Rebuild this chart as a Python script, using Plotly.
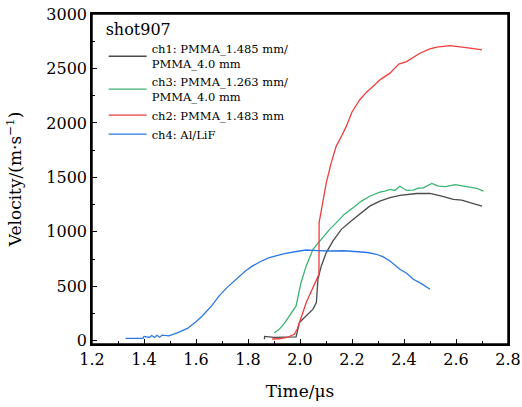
import plotly.graph_objects as go

# ch1: PMMA_1.485 mm / PMMA_4.0 mm
ch1_t = [1.863, 1.864, 1.90, 1.95, 1.985, 1.998, 2.024, 2.050, 2.063, 2.069, 2.082, 2.101,
         2.127, 2.159, 2.204, 2.268, 2.307, 2.346, 2.384, 2.449, 2.500, 2.545, 2.590, 2.622,
         2.654, 2.700]
ch1_v = [15, 40, 31, 31, 35, 168, 229, 290, 351, 565, 687, 809,
         916, 1023, 1114, 1236, 1282, 1313, 1334, 1352, 1352, 1328, 1297, 1291,
         1267, 1236]

# ch3: PMMA_1.263 mm / PMMA_4.0 mm
ch3_t = [1.901, 1.921, 1.94, 1.959, 1.985, 2.004, 2.024, 2.050, 2.082, 2.114, 2.140, 2.17,
         2.204, 2.235, 2.268, 2.307, 2.33, 2.346, 2.365, 2.384, 2.41, 2.436, 2.455, 2.474,
         2.507, 2.532, 2.56, 2.597, 2.63, 2.654, 2.68, 2.706]
ch3_v = [70, 107, 160, 229, 320, 535, 687, 840, 931, 1023, 1084, 1160,
         1221, 1280, 1327, 1364, 1375, 1389, 1380, 1419, 1380, 1382, 1400, 1404,
         1444, 1419, 1415, 1434, 1420, 1413, 1400, 1373]

# ch2: PMMA_1.483 mm
ch2_t = [1.893, 1.92, 1.95, 1.979, 1.99, 1.998, 2.01, 2.024, 2.037, 2.050, 2.060, 2.069,
         2.073, 2.0735, 2.08, 2.088, 2.101, 2.120, 2.139, 2.16, 2.178, 2.20, 2.230, 2.255,
         2.281, 2.31, 2.346, 2.38, 2.410, 2.461, 2.50, 2.526, 2.577, 2.616, 2.654, 2.700]
ch2_v = [16, 18, 30, 61, 110, 168, 260, 351, 420, 489, 545, 595,
         610, 1084, 1180, 1267, 1450, 1633, 1785, 1880, 1968, 2100, 2213, 2280,
         2334, 2400, 2457, 2540, 2563, 2640, 2680, 2695, 2710, 2701, 2686, 2670]

# ch4: Al/LiF
ch4_t = [1.329, 1.396, 1.40, 1.42, 1.43, 1.44, 1.45, 1.46, 1.47, 1.496, 1.53, 1.567,
         1.60, 1.625, 1.66, 1.689, 1.72, 1.754, 1.79, 1.818, 1.85, 1.882, 1.94, 1.998,
         2.024, 2.07, 2.114, 2.17, 2.217, 2.26, 2.294, 2.32, 2.346, 2.384, 2.41, 2.436,
         2.47, 2.50]
ch4_v = [22, 22, 40, 30, 48, 30, 50, 32, 52, 45, 75, 113,
         175, 229, 320, 412, 490, 565, 640, 687, 730, 763, 800, 824,
         833, 828, 824, 826, 821, 810, 794, 770, 732, 656, 620, 565,
         520, 473]

series = [
    ("ch1: PMMA_1.485 mm/<br>PMMA_4.0 mm", ch1_t, ch1_v, "#4a4a4a"),
    ("ch3: PMMA_1.263 mm/<br>PMMA_4.0 mm", ch3_t, ch3_v, "#3cb371"),
    ("ch2: PMMA_1.483 mm", ch2_t, ch2_v, "#f23c3c"),
    ("ch4: Al/LiF", ch4_t, ch4_v, "#2b78e4"),
]

font = "DejaVu Serif"

fig = go.Figure()
for name, t, v, c in series:
    fig.add_scatter(x=t, y=v, mode="lines", name=name, line=dict(color=c, width=1.3))

axis_style = dict(
    showline=True, linecolor="black", linewidth=1.5, mirror=True,
    ticks="inside", ticklen=5, tickcolor="black", tickwidth=1,
    showgrid=False, zeroline=False, automargin=False,
    tickfont=dict(family=font, size=16, color="black"),
)

fig.update_xaxes(range=[1.2, 2.8], dtick=0.2, tickformat=".1f",
                 minor=dict(ticks="inside", ticklen=3, dtick=0.1, tickcolor="black"),
                 title=dict(text="Time/μs", font=dict(family=font, size=17, color="black"), standoff=17),
                 **axis_style)
fig.update_yaxes(range=[-30, 3000], dtick=500,
                 minor=dict(ticks="inside", ticklen=3, dtick=250, tickcolor="black"),
                 title=dict(text="Velocity/(m·s<sup>−1</sup>)", font=dict(family=font, size=17, color="black"), standoff=20),
                 **axis_style)

fig.update_layout(
    width=522, height=407,
    margin=dict(l=92, r=14, t=14, b=63),
    paper_bgcolor="white", plot_bgcolor="white",
    font=dict(family=font, color="black"),
    legend=dict(
        title=dict(text="shot907", font=dict(family=font, size=16)),
        x=0.028, y=1.0, xanchor="left", yanchor="top",
        bgcolor="rgba(0,0,0,0)", font=dict(family=font, size=11.5),
        itemwidth=38, tracegroupgap=0,
    ),
)

# the axis box, drawn around the plot area taken from plotly's own layout
frame_js = """
document.body.style.margin = '0';
var gd = document.getElementById('{plot_id}');
var s = gd._fullLayout._size;
var svgs = gd.querySelectorAll('svg.main-svg');
var svg = svgs[svgs.length - 1];
var r = document.createElementNS('http://www.w3.org/2000/svg', 'rect');
r.setAttribute('x', s.l); r.setAttribute('y', s.t);
r.setAttribute('width', s.w); r.setAttribute('height', s.h);
r.setAttribute('fill', 'none'); r.setAttribute('stroke', '#000');
r.setAttribute('stroke-width', '1.5');
svg.appendChild(r);
"""

fig.write_html("out.html", config={"displayModeBar": False}, post_script=frame_js)
